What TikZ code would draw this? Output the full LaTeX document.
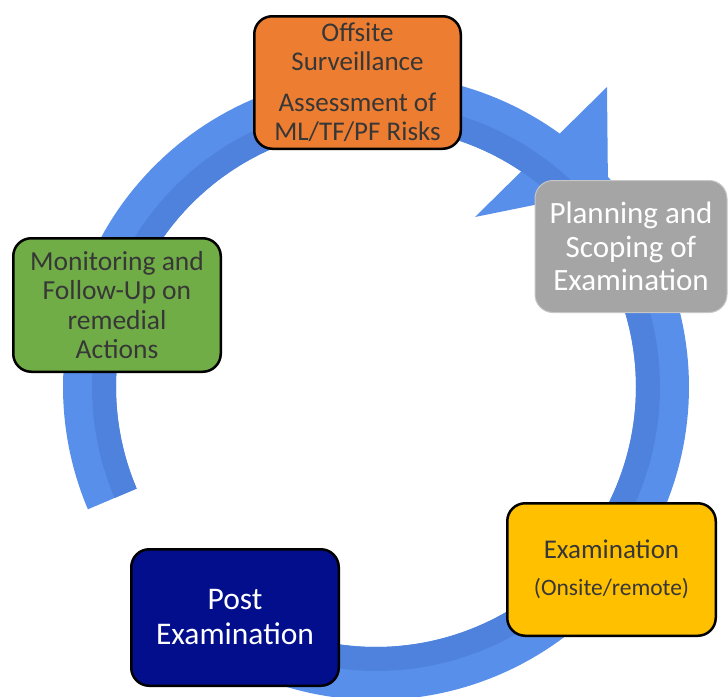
\documentclass[tikz,border=0pt]{standalone}
\usepackage{fontspec}
\setmainfont{Carlito}
\definecolor{ringlight}{RGB}{88,143,235}
\definecolor{ringdark}{RGB}{79,130,220}
\definecolor{orangec}{RGB}{237,125,49}
\definecolor{greenc}{RGB}{112,173,71}
\definecolor{yellowc}{RGB}{255,192,0}
\definecolor{grayc}{RGB}{165,165,165}
\definecolor{navyc}{RGB}{2,14,140}
\definecolor{txtdark}{RGB}{55,55,55}
\begin{document}
\begin{tikzpicture}[x=1pt,y=-1pt,
  box/.style={rectangle, rounded corners=18pt, draw=black, line width=2.5pt,
    align=center, inner sep=0pt, outer sep=0pt},
  darktext/.style={text=txtdark},
  lighttext/.style={text=white}]
\useasboundingbox (0,0) rectangle (728,696);
% arrowhead
\fill[ringlight] (475,217) -- (607,87) -- (608,190) -- cycle;
% ring
\fill[ringlight] plot[domain=157:475,samples=200] ({376+313*cos(\x)},{387+313*sin(\x)})
  -- plot[domain=475:157,samples=200] ({376+260*cos(\x)},{387+260*sin(\x)}) -- cycle;
\fill[ringdark] plot[domain=157:475,samples=200] ({376+284*cos(\x)},{387+284*sin(\x)})
  -- plot[domain=475:157,samples=200] ({376+260*cos(\x)},{387+260*sin(\x)}) -- cycle;
% boxes
\node[box, fill=orangec, darktext, minimum width=206.5pt, minimum height=132.5pt,
  font=\fontsize{27}{29}\selectfont] (offsite) at (357.5,82.5)
  {Offsite\\Surveillance\\[12pt]Assessment of\\ML/TF/PF Risks};
\node[box, fill=grayc, draw=gray!45, line width=1pt, lighttext, minimum width=192pt, minimum height=132pt,
  font=\fontsize{31}{33.5}\selectfont] (planning) at (631,246.5)
  {Planning and\\Scoping of\\Examination};
\node[box, fill=greenc, darktext, minimum width=207.5pt, minimum height=133.5pt,
  font=\fontsize{27.5}{29.5}\selectfont] (monitor) at (117,305)
  {Monitoring and\\Follow-Up on\\remedial\\Actions};
\node[box, fill=yellowc, darktext, minimum width=208.5pt, minimum height=132.5pt,
  font=\fontsize{27}{30}\selectfont] (exam) at (611.5,569.5)
  {Examination\\[7pt]{\fontsize{23.5}{26}\selectfont (Onsite/remote)}};
\node[box, fill=navyc, lighttext, minimum width=207.5pt, minimum height=136.5pt,
  font=\fontsize{31.5}{35}\selectfont] (post) at (235,617.5)
  {Post\\Examination};
\end{tikzpicture}
\end{document}
